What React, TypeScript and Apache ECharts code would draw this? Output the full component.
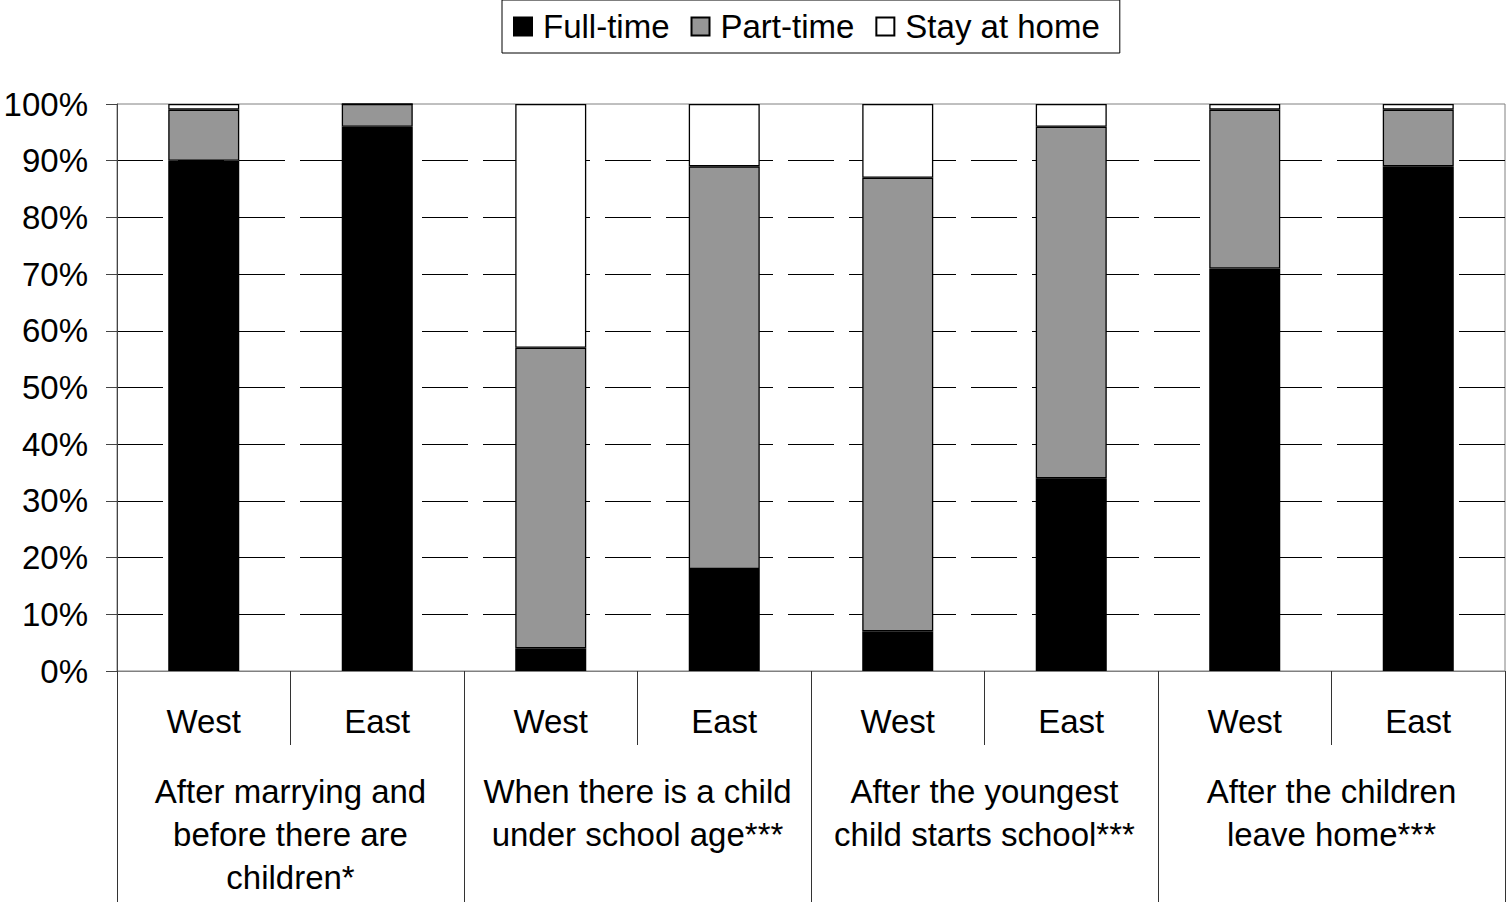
import React, { useEffect, useRef } from "react";
import * as echarts from "echarts";

const regions = ["West", "East", "West", "East", "West", "East", "West", "East"];
const groups = [
  "After marrying and\nbefore there are\nchildren*",
  "When there is a child\nunder school age***",
  "After the youngest\nchild starts school***",
  "After the children\nleave home***",
];
const fullTime = [90, 96, 4, 18, 7, 34, 71, 89];
const partTime = [9, 4, 53, 71, 80, 62, 28, 10];
const stayHome = [1, 0, 43, 11, 13, 4, 1, 1];
const yTicks = [0, 10, 20, 30, 40, 50, 60, 70, 80, 90, 100];

const FONT = "'Liberation Sans', Arial, sans-serif";
const FS = 33;

export default function App() {
  const ref = useRef<HTMLDivElement>(null);
  useEffect(() => {
    if (!ref.current) return;
    const chart = echarts.init(ref.current, null, { renderer: "svg" });
    const barStyle = (color: string) => ({
      color,
      borderColor: "#000",
      borderWidth: 1.3,
    });
    chart.setOption({
      animation: false,
      backgroundColor: "#fff",
      textStyle: { fontFamily: FONT, color: "#000" },
      legend: {
        left: 502,
        top: 0,
        padding: [10, 20, 10, 11],
        itemWidth: 18,
        itemHeight: 18,
        itemGap: 21,
        borderColor: "#000",
        borderWidth: 1,
        icon: "rect",
        textStyle: { fontFamily: FONT, fontSize: FS, color: "#000", padding: [0, 0, 0, 6] },
        data: ["Full-time", "Part-time", "Stay at home"],
      },
      grid: {
        left: 117,
        right: 2,
        top: 104,
        bottom: 231,
        show: true,
        borderColor: "#808080",
        borderWidth: 1,
        backgroundColor: "transparent",
      },
      xAxis: [
        {
          type: "category",
          data: regions,
          position: "bottom",
          boundaryGap: true,
          axisLine: { show: true, lineStyle: { color: "#808080", width: 1 } },
          axisTick: { show: true, length: 74, lineStyle: { color: "#333", width: 1 } },
          axisLabel: {
            fontFamily: FONT,
            fontSize: FS,
            color: "#000",
            margin: 31,
            lineHeight: 38,
            interval: 0,
          },
        },
        {
          type: "category",
          data: groups,
          position: "bottom",
          boundaryGap: true,
          axisLine: { show: false },
          axisTick: { show: true, length: 231, lineStyle: { color: "#333", width: 1 } },
          axisLabel: {
            fontFamily: FONT,
            fontSize: FS,
            color: "#000",
            margin: 99,
            lineHeight: 43,
            interval: 0,
            align: "center",
          },
        },
      ],
      yAxis: {
        type: "value",
        min: yTicks[0],
        max: yTicks[yTicks.length - 1],
        interval: 10,
        axisLine: { show: true, lineStyle: { color: "#444", width: 1 } },
        axisTick: { show: true, length: 11, lineStyle: { color: "#444" } },
        axisLabel: {
          fontFamily: FONT,
          fontSize: FS,
          color: "#000",
          margin: 29,
          formatter: (v: number) => `${v}%`,
        },
        splitLine: {
          show: true,
          showMinLine: false,
          showMaxLine: false,
          lineStyle: { color: "#000", width: 1, type: [46, 15] },
        },
      },
      series: [
        {
          name: "Full-time",
          type: "bar",
          stack: "total",
          barWidth: 71,
          data: fullTime,
          itemStyle: barStyle("#000000"),
        },
        {
          name: "Part-time",
          type: "bar",
          stack: "total",
          barWidth: 71,
          data: partTime,
          itemStyle: barStyle("#969696"),
        },
        {
          name: "Stay at home",
          type: "bar",
          stack: "total",
          barWidth: 71,
          data: stayHome,
          itemStyle: barStyle("#ffffff"),
        },
      ],
    });
    return () => chart.dispose();
  }, []);
  return (
    <div
      ref={ref}
      style={{ position: "fixed", left: 0, top: 0, width: 1507, height: 902 }}
    />
  );
}
